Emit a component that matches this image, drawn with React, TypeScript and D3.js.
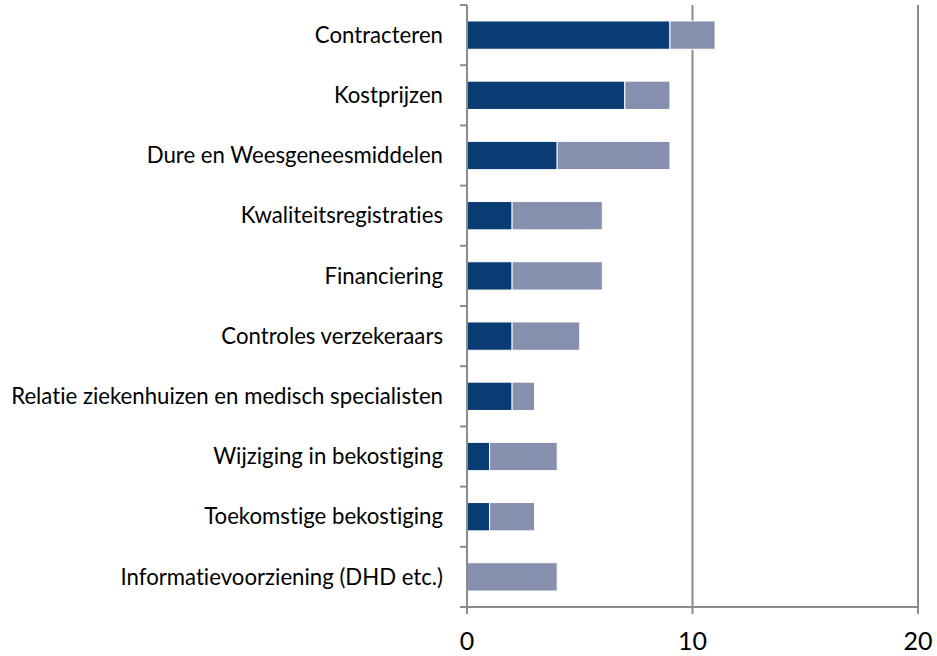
import React, { useEffect, useRef } from 'react'
import * as d3 from 'd3'

const categories = [
  'Contracteren',
  'Kostprijzen',
  'Dure en Weesgeneesmiddelen',
  'Kwaliteitsregistraties',
  'Financiering',
  'Controles verzekeraars',
  'Relatie ziekenhuizen en medisch specialisten',
  'Wijziging in bekostiging',
  'Toekomstige bekostiging',
  'Informatievoorziening (DHD etc.)',
]
const darkValues = [9, 7, 4, 2, 2, 2, 2, 1, 1, 0]
const lightValues = [2, 2, 5, 4, 4, 3, 1, 3, 2, 4]
const xTicks = [0, 10, 20]

const darkColor = '#0a3c74'
const lightColor = '#8690ae'
const gridColor = '#8c8c8c'

export default function App() {
  const ref = useRef<SVGSVGElement>(null)

  useEffect(() => {
    const svg = d3.select(ref.current)
    svg.selectAll('*').remove()

    const width = 937
    const height = 656
    const margin = { top: 5, right: 19, bottom: 49, left: 467 }

    const x = d3.scaleLinear().domain([0, 20]).range([margin.left, width - margin.right])
    const y = d3.scaleBand<string>()
      .domain(categories)
      .range([margin.top, height - margin.bottom])
      .paddingInner(0.53)
      .paddingOuter(0.265)
    const band = d3.scaleBand<string>().domain(categories).range([margin.top, height - margin.bottom])

    // gridlines
    svg.append('g')
      .selectAll('line')
      .data(xTicks.slice(1))
      .join('line')
      .attr('x1', d => x(d)).attr('x2', d => x(d))
      .attr('y1', margin.top).attr('y2', height - margin.bottom)
      .attr('stroke', gridColor).attr('stroke-width', 2)

    const rows = categories.map((c, i) => ({ c, dark: darkValues[i], light: lightValues[i] }))

    const bars = svg.append('g')
    bars.selectAll('rect.dark')
      .data(rows.filter(r => r.dark > 0))
      .join('rect')
      .attr('class', 'dark')
      .attr('x', x(0))
      .attr('y', d => y(d.c)!)
      .attr('width', d => x(d.dark) - x(0))
      .attr('height', y.bandwidth())
      .attr('fill', darkColor)
      .attr('stroke', '#fff').attr('stroke-width', 1)
    bars.selectAll('rect.light')
      .data(rows)
      .join('rect')
      .attr('class', 'light')
      .attr('x', d => x(d.dark))
      .attr('y', d => y(d.c)!)
      .attr('width', d => x(d.dark + d.light) - x(d.dark))
      .attr('height', y.bandwidth())
      .attr('fill', lightColor)
      .attr('stroke', '#fff').attr('stroke-width', 1)

    // left axis
    const boundaries = categories.map(c => band(c)!).concat([height - margin.bottom])
    const left = svg.append('g')
    left.append('line')
      .attr('x1', x(0)).attr('x2', x(0))
      .attr('y1', margin.top).attr('y2', height - margin.bottom + 7)
      .attr('stroke', gridColor).attr('stroke-width', 2)
    left.selectAll('line.tick')
      .data(boundaries)
      .join('line')
      .attr('class', 'tick')
      .attr('x1', x(0) - 7).attr('x2', x(0))
      .attr('y1', d => d).attr('y2', d => d)
      .attr('stroke', gridColor).attr('stroke-width', 2)
    left.selectAll('text')
      .data(categories)
      .join('text')
      .attr('x', x(0) - 24)
      .attr('y', d => band(d)! + band.bandwidth() / 2)
      .attr('dy', '0.35em')
      .attr('text-anchor', 'end')
      .attr('font-family', 'Lato, sans-serif')
      .attr('font-size', 22.2)
      .style('font-variant-ligatures', 'none')
      .attr('fill', '#000')
      .text(d => d)

    // bottom axis
    const bottom = svg.append('g')
    bottom.append('line')
      .attr('x1', x(0) - 7).attr('x2', x(20))
      .attr('y1', height - margin.bottom).attr('y2', height - margin.bottom)
      .attr('stroke', gridColor).attr('stroke-width', 2)
    bottom.selectAll('line.tick')
      .data(xTicks)
      .join('line')
      .attr('class', 'tick')
      .attr('x1', d => x(d)).attr('x2', d => x(d))
      .attr('y1', height - margin.bottom).attr('y2', height - margin.bottom + 7)
      .attr('stroke', gridColor).attr('stroke-width', 2)
    bottom.selectAll('text')
      .data(xTicks)
      .join('text')
      .attr('x', d => x(d))
      .attr('y', 641)
      .attr('dy', '0.35em')
      .attr('text-anchor', 'middle')
      .attr('font-family', 'Lato, sans-serif')
      .attr('font-size', 25)
      .attr('fill', '#000')
      .text(d => d)
  }, [])

  return (
    <svg ref={ref} width={937} height={656} style={{ position: 'absolute', left: 0, top: 0 }} />
  )
}
